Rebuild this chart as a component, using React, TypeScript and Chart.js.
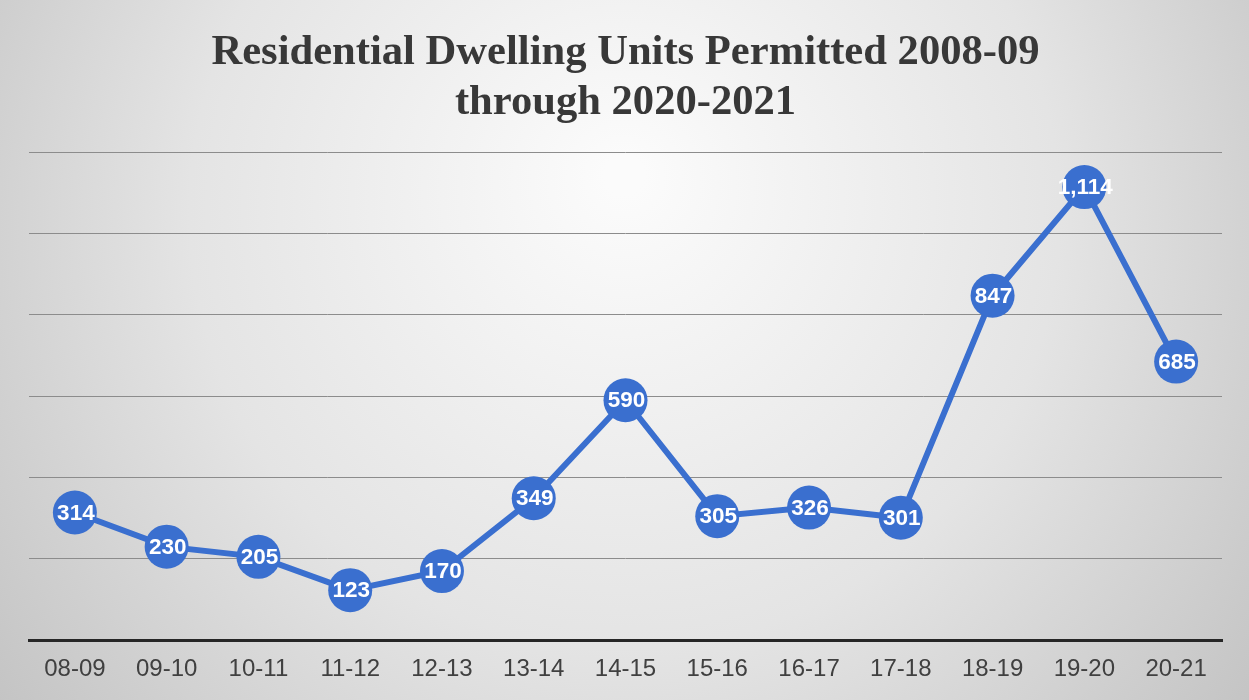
import React, { useEffect, useRef } from "react";
import { Chart, registerables } from "chart.js";

Chart.register(...registerables);

const categories = ["08-09", "09-10", "10-11", "11-12", "12-13", "13-14", "14-15", "15-16", "16-17", "17-18", "18-19", "19-20", "20-21"];
const unitsPermitted = [314, 230, 205, 123, 170, 349, 590, 305, 326, 301, 847, 1114, 685];
const titleLines = ["Residential Dwelling Units Permitted 2008-09", "through 2020-2021"];
const yMin = 0;
const yMax = 1200;
const yStep = 200;

const LINE_BLUE = "#3a6fcf";

const backgroundPlugin = {
  id: "bgGradient",
  beforeDraw(chart: any) {
    const { ctx, width, height } = chart;
    ctx.save();
    const g = ctx.createRadialGradient(width * 0.5, height * 0.25, 20, width * 0.5, height * 0.35, width * 0.62);
    g.addColorStop(0, "#fbfbfb");
    g.addColorStop(0.55, "#e4e4e4");
    g.addColorStop(1, "#c4c4c4");
    ctx.fillStyle = g;
    ctx.fillRect(0, 0, width, height);
    ctx.restore();
  },
};

const valueLabelPlugin = {
  id: "valueLabels",
  afterDatasetsDraw(chart: any) {
    const { ctx } = chart;
    const meta = chart.getDatasetMeta(0);
    ctx.save();
    ctx.fillStyle = "#ffffff";
    ctx.font = "bold 22.5px 'Liberation Sans', Arial, sans-serif";
    ctx.textAlign = "center";
    ctx.textBaseline = "middle";
    meta.data.forEach((pt: any, i: number) => {
      const v = chart.data.datasets[0].data[i] as number;
      ctx.fillText(v.toLocaleString("en-US"), pt.x + 1, pt.y + 1);
    });
    ctx.restore();
  },
};

export default function App() {
  const canvasRef = useRef<HTMLCanvasElement | null>(null);

  useEffect(() => {
    document.body.style.margin = "0";
    const canvas = canvasRef.current;
    if (!canvas) return;
    const chart = new Chart(canvas, {
      type: "line",
      data: {
        labels: categories,
        datasets: [
          {
            label: "Units Permitted",
            data: unitsPermitted,
            borderColor: LINE_BLUE,
            backgroundColor: LINE_BLUE,
            borderWidth: 6,
            pointRadius: 22,
            pointHoverRadius: 22,
            pointBackgroundColor: LINE_BLUE,
            pointBorderWidth: 0,
            tension: 0,
          },
        ],
      },
      options: {
        responsive: false,
        animation: false,
        devicePixelRatio: 1,
        layout: { autoPadding: false, padding: { left: 29, right: 27, top: 0, bottom: 1 } },
        plugins: {
          legend: { display: false },
          tooltip: { enabled: false },
          title: {
            display: true,
            text: titleLines,
            color: "#383838",
            font: { family: "'Liberation Serif', 'Times New Roman', serif", size: 42.6, weight: "bold", lineHeight: 1.175 },
            padding: { top: 28, bottom: 24 },
          },
        },
        scales: {
          x: {
            offset: true,
            grid: { display: false, drawTicks: false },
            border: { display: true, color: "#262626", width: 3 },
            ticks: {
              color: "#404040",
              padding: 15,
              font: { family: "'Liberation Sans', Arial, sans-serif", size: 24 },
            },
          },
          y: {
            min: yMin,
            max: yMax,
            ticks: { display: false, stepSize: yStep },
            grid: { color: "#8c8c8c", lineWidth: 1, drawTicks: false },
            border: { display: false },
          },
        },
      },
      plugins: [backgroundPlugin, valueLabelPlugin],
    });
    return () => chart.destroy();
  }, []);

  return (
    <div style={{ position: "fixed", left: 0, top: 0, width: 1249, height: 700 }}>
      <canvas ref={canvasRef} width={1249} height={700} style={{ display: "block", width: 1249, height: 700 }} />
    </div>
  );
}
